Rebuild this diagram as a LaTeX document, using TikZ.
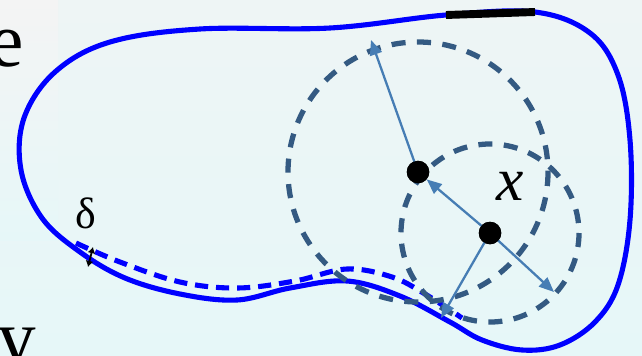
\documentclass[tikz,border=0pt]{standalone}
\usepackage{fontspec}
\setmainfont{Liberation Serif}
\usetikzlibrary{arrows.meta}
\definecolor{bgtop}{RGB}{238,245,245}
\definecolor{bgbot}{RGB}{230,247,248}
\definecolor{margin}{RGB}{244,244,244}
\definecolor{ballcol}{RGB}{52,90,130}
\definecolor{radcol}{RGB}{70,125,180}
\tikzset{
  bound/.style  ={draw=blue,line width=5.8pt},
  offset/.style ={draw=blue,line width=5.8pt,dash pattern=on 15pt off 9pt},
  flat/.style   ={draw=black,line width=9pt},
  ball/.style   ={draw=ballcol,line width=6pt,dash pattern=on 16pt off 13pt},
  rad/.style    ={-{Triangle[length=17pt,width=14pt]},draw=radcol,fill=radcol,line width=2.6pt},
  gap/.style    ={{Latex[length=7pt,width=9pt]}-{Latex[length=7pt,width=9pt]},line width=2pt},
  dot/.style    ={circle,fill=black,minimum size=0.9cm,inner sep=0pt},
  slidetxt/.style={font=\fontsize{88}{90}\selectfont,inner sep=0pt},
}
\begin{document}
\begin{tikzpicture}[x=0.04cm,y=-0.04cm]
  \useasboundingbox (0,0) rectangle (642,355);
  \clip (0,0) rectangle (642,355);
  % BACKGROUND: slide colour, grey margin on the left
  \shade[top color=bgtop,bottom color=bgbot] (0,0) rectangle (642,355);
  \shade[top color=margin,bottom color=bgbot] (0,0) rectangle (58,240);
  \node[slidetxt,anchor=base east] (e) at (24,66) {e};
  \node[slidetxt,anchor=base east] (ry) at (36,363) {ry};
  % DOMAIN: boundary with its flat piece
  \draw[bound] plot[smooth cycle,tension=0.6] coordinates {
    (446,15) (535,12) (590,33) (618,75) (630,140) (630,220) (618,285)
    (595,322) (560,345) (522,350) (482,340) (450,322) (400,296) (347,281)
    (290,288) (237,300) (180,294) (125,278) (80,252) (42,218) (21,170)
    (24,118) (55,72) (110,42) (200,29) (330,28)};
  \draw[flat] (446,15) -- (535,12);
  % inner boundary at distance delta
  \draw[offset] plot[smooth,tension=0.6] coordinates {
    (76,243) (120,262) (180,282) (237,288) (295,281) (347,269) (392,277)
    (425,294) (462,318)};
  \coordinate (din) at (93,247);
  \coordinate (dout) at (88,267);
  \draw[gap] (din) -- (dout);
  \node[font=\fontsize{50}{52}\selectfont] (delta) at (86,213) {δ};
  % BALLS: big one and the one round x
  \coordinate (cbig) at (418,172);
  \coordinate (cx) at (490,233);
  \draw[ball] (cbig) circle[radius=130];
  \draw[ball] (cx) circle[radius=89];
  \coordinate (rtop) at (371,40);
  \coordinate (rright) at (554,292);
  \coordinate (rwall) at (441,318);
  \node[dot] (pbig) at (cbig) {};
  \node[dot] (px) at (cx) {};
  \draw[rad] (pbig.center) -- (rtop);
  \draw[rad] (px.center) -- (pbig);
  \draw[rad] (px.center) -- (rright);
  \draw[rad] (px.center) -- (rwall);
  \node[dot] at (cbig) {};
  \node[dot] at (cx) {};
  \node[font=\fontsize{70}{72}\selectfont\itshape] (xlbl) at (510,186) {x};
\end{tikzpicture}
\end{document}
